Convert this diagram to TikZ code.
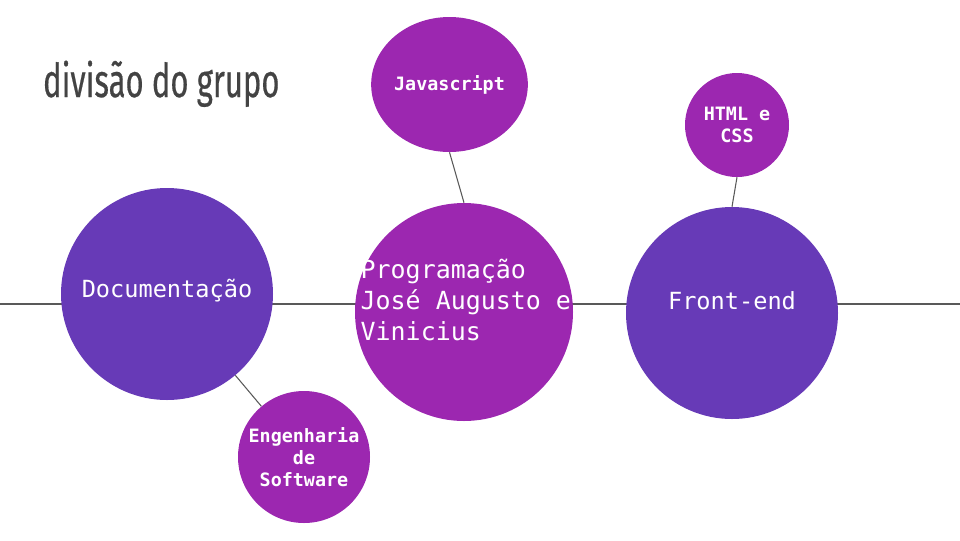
\documentclass[tikz,border=0pt]{standalone}
\usepackage{fontspec}
\setmonofont{DejaVu Sans Mono}
\newfontfamily\titlefont[FakeBold=0.6]{Fira Sans}
\usetikzlibrary{shapes.geometric}
\definecolor{topicpurple}{HTML}{673AB7}
\definecolor{subpurple}{HTML}{9C27B0}
\definecolor{linegray}{HTML}{595959}
\definecolor{titlegray}{HTML}{434343}
\tikzset {
    x=0.75pt,
    y=-0.75pt,
    topic/.style={circle, fill=topicpurple, inner sep=0pt, minimum size=159pt},
    topic text/.style={text=white, font=\ttfamily\fontsize{17.7}{22}\selectfont},
    sub/.style={circle, fill=subpurple, inner sep=0pt, text=white, align=center,
        font=\ttfamily\bfseries\fontsize{13.8}{16.3}\selectfont},
    link/.style={draw=linegray, line width=0.8pt}
}

\begin{document}
\begin{tikzpicture}
                \useasboundingbox (0,0) rectangle (960,540);
                \coordinate (line start) at (0,304);
                \coordinate (line end) at (960,304);
                \draw[link, line width=1.5pt] (line start) -- (line end);

                \node[anchor=base west, text=titlegray, xscale=0.665,
                    font=\titlefont\fontsize{35}{35}\selectfont] (title) at (40,97) {divisão do grupo};

                \node[topic] (doc) at (167,294) {};
                \node[topic, fill=subpurple, minimum size=163.5pt] (prog) at (464,312) {};
                \node[topic] (front) at (732,313) {};
                \node[topic text] (doc text) at (167,291) {Documentação};
                \node[topic text, anchor=west, align=left, font=\ttfamily\fontsize{18.7}{22.9}\selectfont] (prog text) at (356,300) {Programação\\José Augusto e\\Vinicius};
                \node[topic text] (front text) at (732,301) {Front-end};

                \node[sub, ellipse, minimum width=111.75pt, minimum height=101.25pt] (js) at (449.5,84.5) {Javascript};
                \node[sub, minimum size=78pt] (html) at (737,125) {HTML e\\CSS};
                \node[sub, minimum size=99pt] (eng) at (304,457) {Engenharia\\de\\Software};

                \draw[link] (js.south) -- (prog.north);
                \draw[link] (html.south) -- (front.north);
                \draw[link] (doc) -- (eng);
            \end{tikzpicture}
\end{document}
